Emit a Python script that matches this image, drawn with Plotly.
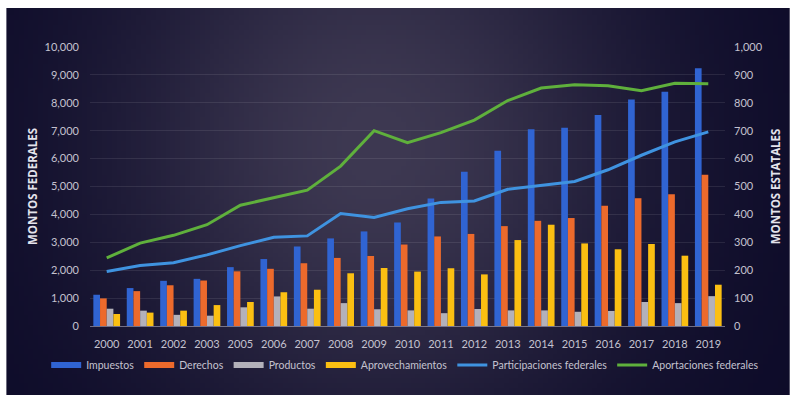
import base64
import math
import struct
import zlib

import plotly.graph_objects as go

# ---- data -------------------------------------------------------------
years = ["2000", "2001", "2002", "2003", "2005", "2006", "2007", "2008", "2009", "2010",
         "2011", "2012", "2013", "2014", "2015", "2016", "2017", "2018", "2019"]

# own state revenues (right axis, MONTOS ESTATALES)
impuestos = [112, 136, 162, 169, 211, 240, 285, 314, 339, 371, 457, 553, 628, 705, 711, 756, 812, 840, 924]
derechos = [99, 125, 146, 163, 196, 205, 225, 244, 251, 292, 321, 330, 358, 377, 387, 431, 458, 472, 542]
productos = [62, 55, 40, 37, 67, 106, 62, 82, 60, 56, 46, 61, 56, 56, 51, 54, 86, 82, 107]
aprovechamientos = [43, 48, 55, 75, 86, 121, 130, 189, 208, 195, 207, 185, 308, 363, 296, 275, 294, 252, 148]

# federal transfers (left axis, MONTOS FEDERALES)
participaciones = [1950, 2170, 2270, 2550, 2880, 3180, 3230, 4030, 3890, 4200,
                   4430, 4480, 4900, 5050, 5180, 5600, 6120, 6600, 6960]
aportaciones = [2440, 2970, 3250, 3630, 4330, 4610, 4870, 5730, 7000, 6570,
                6930, 7380, 8080, 8530, 8650, 8610, 8430, 8700, 8680]

left_ticks = list(range(0, 10001, 1000))
right_ticks = list(range(0, 1001, 100))

bar_series = [
    ("Impuestos", impuestos, "#3064d2"),
    ("Derechos", derechos, "#ec6a2c"),
    ("Productos", productos, "#b3b1ba"),
    ("Aprovechamientos", aprovechamientos, "#fbbf12"),
]
line_series = [
    ("Participaciones federales", participaciones, "#3f93e0"),
    ("Aportaciones federales", aportaciones, "#5fb03c"),
]


# ---- dark gradient backdrop as a tiny PNG -----------------------------
def gradient_png(w=160, h=80):
    dark = (12, 10, 40)
    light = (62, 57, 82)
    rows = []
    for j in range(h):
        v = j / (h - 1)
        row = bytearray()
        for i in range(w):
            u = i / (w - 1)
            f = math.exp(-((u - 0.47) / 0.34) ** 2 - ((v - 0.35) / 0.75) ** 2)
            row += bytes(int(dark[k] + (light[k] - dark[k]) * f) for k in range(3))
        rows.append(b"\x00" + bytes(row))
    raw = b"".join(rows)

    def chunk(tag, data):
        c = struct.pack(">I", len(data)) + tag + data
        return c + struct.pack(">I", zlib.crc32(tag + data) & 0xFFFFFFFF)

    png = b"\x89PNG\r\n\x1a\n"
    png += chunk(b"IHDR", struct.pack(">IIBBBBB", w, h, 8, 2, 0, 0, 0))
    png += chunk(b"IDAT", zlib.compress(raw, 9))
    png += chunk(b"IEND", b"")
    return "data:image/png;base64," + base64.b64encode(png).decode()


fig = go.Figure()

# bars on the state-revenue axis
for name, vals, color in bar_series:
    fig.add_trace(go.Bar(x=years, y=vals, name=name, marker=dict(color=color, line=dict(width=0)),
                         yaxis="y2", legendgroup=name, showlegend=False))

# lines on the federal axis (drawn on top of the bars)
for name, vals, color in line_series:
    fig.add_trace(go.Scatter(x=years, y=vals, name=name, mode="lines",
                             line=dict(color=color, width=3), yaxis="y",
                             legendgroup=name, showlegend=False))

# legend entries: wide swatches for every series
for name, _, color in bar_series:
    fig.add_trace(go.Scatter(x=[None], y=[None], mode="lines", name=name,
                             line=dict(color=color, width=6), legendgroup=name, yaxis="y2"))
for name, _, color in line_series:
    fig.add_trace(go.Scatter(x=[None], y=[None], mode="lines", name=name,
                             line=dict(color=color, width=3), legendgroup=name, yaxis="y"))

tick_font = dict(family="Lato, 'Open Sans', sans-serif", size=11, color="#c4c2cf")
title_font = dict(family="'Open Sans', Lato, sans-serif", size=11.5, color="#e4e3ec")

fig.update_layout(
    width=793,
    height=401,
    margin=dict(l=90, r=65, t=47, b=75),
    paper_bgcolor="white",
    plot_bgcolor="rgba(0,0,0,0)",
    barmode="group",
    bargap=0.2,
    bargroupgap=0,
    font=tick_font,
    xaxis=dict(
        type="category",
        showgrid=False,
        showline=True,
        linecolor="rgba(190,188,205,0.55)",
        linewidth=1,
        tickfont=tick_font,
        ticks="",
        ticklabelstandoff=8,
        zeroline=False,
    ),
    yaxis=dict(
        side="left",
        overlaying="y2",
        range=[0, 10000],
        tickvals=left_ticks,
        tickformat=",",
        showgrid=False,
        zeroline=False,
        tickfont=tick_font,
        ticklabelstandoff=10,
        title=dict(text="<b>MONTOS FEDERALES</b>", font=title_font, standoff=4),
    ),
    yaxis2=dict(
        side="right",
        anchor="x",
        range=[0, 1000],
        tickvals=right_ticks,
        tickformat=",",
        showgrid=True,
        gridcolor="rgba(255,255,255,0.09)",
        gridwidth=1,
        zeroline=False,
        tickfont=tick_font,
        ticklabelstandoff=8,
        title=dict(text="<b>MONTOS ESTATALES</b>", font=title_font, standoff=10),
    ),
    legend=dict(
        orientation="h",
        x=-0.069,
        xanchor="left",
        y=-0.14,
        yanchor="middle",
        font=dict(family="Lato, 'Open Sans', sans-serif", size=10.5, color="#c4c2cf"),
        bgcolor="rgba(0,0,0,0)",
        itemwidth=30,
        tracegroupgap=0,
    ),
    images=[dict(
        source=gradient_png(),
        xref="paper", yref="paper",
        x=-84 / 638, y=318 / 279,
        sizex=787 / 638, sizey=387 / 279,
        xanchor="left", yanchor="top",
        sizing="stretch",
        layer="below",
    )],
)

fig.write_html("out.html")
